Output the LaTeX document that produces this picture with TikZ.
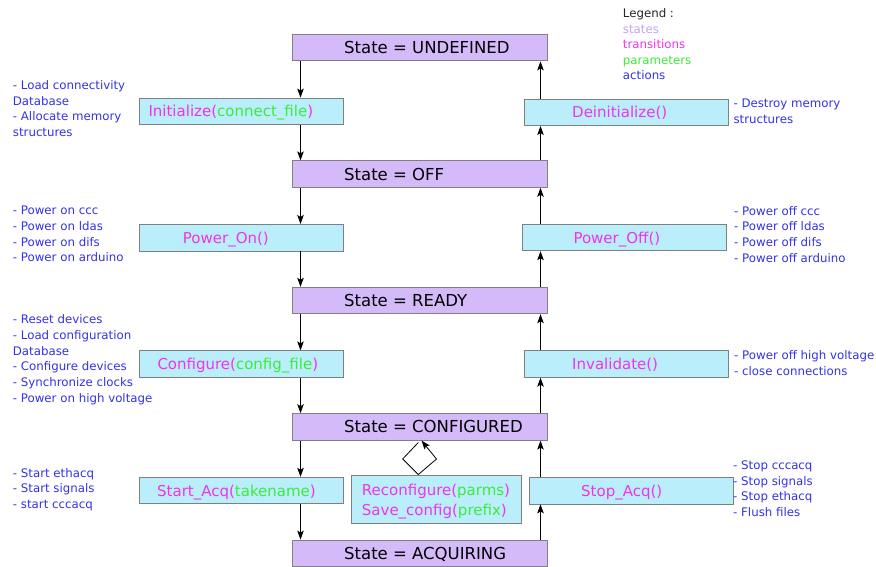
\documentclass[tikz,border=0pt]{standalone}
\usepackage{fontspec}
\setmainfont{DejaVu Sans}
\usetikzlibrary{arrows.meta}
\definecolor{stfill}{RGB}{213,186,250}
\definecolor{trfill}{RGB}{186,238,250}
\definecolor{bord}{RGB}{128,128,128}
\definecolor{cst}{RGB}{200,160,245}
\definecolor{ctr}{RGB}{240,50,240}
\definecolor{cpa}{RGB}{60,235,60}
\definecolor{cac}{RGB}{50,50,230}
\begin{document}
\begin{tikzpicture}[x=1pt,y=-1pt,
 statebox/.style={draw=bord, fill=stfill, line width=0.9pt, minimum width=255pt, minimum height=26.5pt, inner sep=0pt},
 transbox/.style={draw=bord, fill=trfill, line width=0.9pt, minimum width=204pt, minimum height=26.5pt, inner sep=0pt},
 statetxt/.style={anchor=base west, inner sep=0pt, font=\fontsize{16.5}{20}\selectfont},
 transtxt/.style={anchor=base west, inner sep=0pt, font=\fontsize{15}{18}\selectfont, text=ctr},
 actiontxt/.style={anchor=north west, inner sep=0pt, align=left, font=\fontsize{11.8}{15.7}\selectfont, text=cac},
 legtxt/.style={anchor=base west, inner sep=0pt, font=\fontsize{11.8}{15.5}\selectfont},
 arr/.style={-{Stealth[length=9pt,width=6.5pt,inset=2pt]}, line width=0.8pt, black},
 plain/.style={line width=0.8pt, black},
]
\useasboundingbox (0,0) rectangle (876,567);
\coordinate (Lx) at (300.5,0);
\coordinate (Rx) at (540.5,0);

% states
\node[statebox] (s1) at (420,47.7) {};
\node[statebox] (s2) at (420,174.1) {};
\node[statebox] (s3) at (420,300.5) {};
\node[statebox] (s4) at (420,426.9) {};
\node[statebox] (s5) at (420,553.3) {};
\node[statetxt] (s1t) at (344,53.7) {State = UNDEFINED};
\node[statetxt] (s2t) at (344,180.1) {State = OFF};
\node[statetxt] (s3t) at (344,306.5) {State = READY};
\node[statetxt] (s4t) at (344,432.9) {State = CONFIGURED};
\node[statetxt] (s5t) at (344,559.3) {State = ACQUIRING};

% left transitions
\node[transbox] (t1) at (241.3,111.3) {};
\node[transbox] (t2) at (241.3,237.7) {};
\node[transbox] (t3) at (241.3,364.1) {};
\node[transbox] (t4) at (241.3,490.5) {};
\node[transtxt] (t1t) at (148.3,116.8) {Initialize(\textcolor{cpa}{connect\_file})};
\node[transtxt] (t2t) at (182.7,243.2) {Power\_On()};
\node[transtxt] (t3t) at (157.3,369.6) {Configure(\textcolor{cpa}{config\_file})};
\node[transtxt] (t4t) at (157,496) {Start\_Acq(\textcolor{cpa}{takename})};

% right transitions
\node[transbox] (r1) at (626.3,112.3) {};
\node[transbox] (r2) at (624.7,237.5) {};
\node[transbox] (r3) at (626,364) {};
\node[transbox] (r4) at (631.5,490.7) {};
\node[transtxt] (r1t) at (572,117.8) {Deinitialize()};
\node[transtxt] (r2t) at (573.3,243) {Power\_Off()};
\node[transtxt] (r3t) at (572,369.5) {Invalidate()};
\node[transtxt] (r4t) at (581,496.2) {Stop\_Acq()};

% reconfigure
\node[transbox, minimum width=170pt, minimum height=48pt] (rc) at (436.7,499) {};
\node[transtxt] (rct1) at (361.7,495.7) {Reconfigure(\textcolor{cpa}{parms})};
\node[transtxt] (rct2) at (361.7,515) {Save\_config(\textcolor{cpa}{prefix})};

% left arrows
\draw[arr] (s1.south -| Lx) -- (t1.north -| Lx);
\draw[arr] (t1.south -| Lx) -- (s2.north -| Lx);
\draw[arr] (s2.south -| Lx) -- (t2.north -| Lx);
\draw[arr] (t2.south -| Lx) -- (s3.north -| Lx);
\draw[arr] (s3.south -| Lx) -- (t3.north -| Lx);
\draw[arr] (t3.south -| Lx) -- (s4.north -| Lx);
\draw[arr] (s4.south -| Lx) -- (t4.north -| Lx);
\draw[arr] (t4.south -| Lx) -- (s5.north -| Lx);

% right arrows
\draw[arr] (s2.north -| Rx) -- (r1.south -| Rx);
\draw[arr] (r1.north -| Rx) -- (s1.south -| Rx);
\draw[arr] (s3.north -| Rx) -- (r2.south -| Rx);
\draw[arr] (r2.north -| Rx) -- (s2.south -| Rx);
\draw[arr] (s4.north -| Rx) -- (r3.south -| Rx);
\draw[arr] (r3.north -| Rx) -- (s3.south -| Rx);
\draw[arr] (s5.north -| Rx) -- (r4.south -| Rx);
\draw[arr] (r4.north -| Rx) -- (s4.south -| Rx);

% self loop diamond
\coordinate (db) at (418.3,475);
\coordinate (dl) at (402.7,459);
\coordinate (dt) at (418.3,442.5);
\coordinate (dr) at (436.5,459);
\coordinate (dx) at (421.5,0);
\draw[plain] (rc.north -| db) -- (dl) -- (dt);
\draw[arr] (rc.north -| db) -- (dr) -- (s4.south -| dx);

% action texts
\node[actiontxt] (a1) at (12.7,80.3) {- Load connectivity\\Database\\- Allocate memory\\structures};
\node[actiontxt] (a2) at (12.7,206) {- Power on ccc\\- Power on ldas\\- Power on difs\\- Power on arduino};
\node[actiontxt] (a3) at (12.7,314.7) {- Reset devices\\- Load configuration\\Database\\- Configure devices\\- Synchronize clocks\\- Power on high voltage};
\node[actiontxt] (a4) at (12.7,468) {- Start ethacq\\- Start signals\\- start cccacq};
\node[actiontxt] (b1) at (733.3,98.5) {- Destroy memory\\structures};
\node[actiontxt] (b2) at (734,206) {- Power off ccc\\- Power off ldas\\- Power off difs\\- Power off arduino};
\node[actiontxt] (b3) at (734,350.4) {- Power off high voltage\\- close connections};
\node[actiontxt] (b4) at (733,460.4) {- Stop cccacq\\- Stop signals\\- Stop ethacq\\- Flush files};

% legend
\node[legtxt, text=black!85] (lg) at (622.7,17.7) {Legend :};
\node[legtxt, text=cst] (lg1) at (622.7,33.2) {states};
\node[legtxt, text=ctr] (lg2) at (622.7,48.7) {transitions};
\node[legtxt, text=cpa] (lg3) at (622.7,64.2) {parameters};
\node[legtxt, text=cac] (lg4) at (622.7,79.7) {actions};
\end{tikzpicture}
\end{document}
